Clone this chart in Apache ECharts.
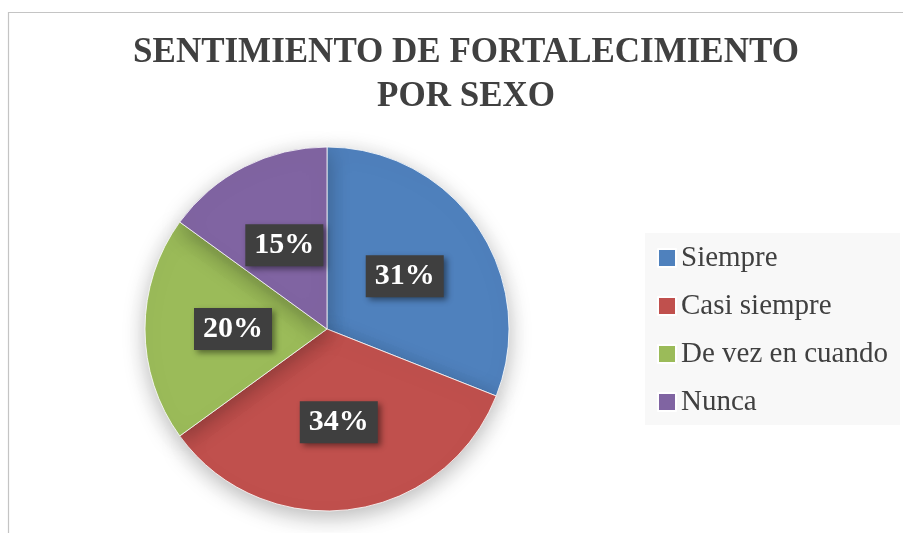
<!DOCTYPE html>
<html lang="es">

<head>
    <meta charset="UTF-8">
    <title>Sentimiento de fortalecimiento por sexo</title>
    <script src="https://cdn.jsdelivr.net/npm/echarts@6/dist/echarts.min.js"></script>
    <style>
        html, body {
            margin: 0;
            padding: 0;
            background: #fff;
        }

        #chart {
            width: 903px;
            height: 533px;
        }
    </style>
</head>

<body>
    <div id="chart"></div>
    <script>
        // datos
        var categorias = ['Siempre', 'Casi siempre', 'De vez en cuando', 'Nunca'];
        var porcentajes = [31, 34, 20, 15];
        var colores = ['#4f81bd', '#c0504d', '#9bbb59', '#8064a2'];

        var serif = '"Liberation Serif", "Times New Roman", serif';

        var datos = [];
        for (var i = 0; i < categorias.length; i++) {
            datos.push({ name: categorias[i], value: porcentajes[i], itemStyle: { color: colores[i] } });
        }

        var myChart = echarts.init(document.getElementById('chart'));
        var option = {
            animation: false,
            backgroundColor: '#fff',
            title: {
                text: 'SENTIMIENTO DE FORTALECIMIENTO\nPOR SEXO',
                left: 461,
                top: 26,
                textAlign: 'center',
                textStyle: {
                    fontFamily: serif,
                    fontWeight: 'bold',
                    fontSize: 35,
                    lineHeight: 44,
                    color: '#404040'
                }
            },
            graphic: [
                {
                    // marco del area del grafico
                    type: 'rect',
                    z: -10,
                    shape: { x: 8.5, y: 12.5, width: 1000, height: 1000 },
                    style: { fill: 'none', stroke: '#c4c4c4', lineWidth: 1.2 }
                },
                {
                    // fondo de la leyenda
                    type: 'rect',
                    z: -5,
                    shape: { x: 645, y: 233, width: 255, height: 192 },
                    style: { fill: '#f8f8f8' }
                }
            ],
            legend: {
                orient: 'vertical',
                left: 657,
                top: 243,
                padding: 0,
                itemWidth: 18,
                itemHeight: 18,
                itemGap: 18,
                icon: 'rect',
                data: categorias,
                textStyle: {
                    fontFamily: serif,
                    fontSize: 29,
                    lineHeight: 30,
                    color: '#404040'
                }
            },
            series: [{
                type: 'pie',
                center: [327, 329],
                radius: 182,
                startAngle: 90,
                clockwise: true,
                data: datos,
                itemStyle: {
                    borderColor: '#ffffff',
                    borderWidth: 0.8,
                    shadowBlur: 22,
                    shadowColor: 'rgba(0,0,0,0.28)',
                    shadowOffsetY: 6
                },
                label: {
                    show: true,
                    position: 'inside',
                    formatter: '{c}%',
                    fontFamily: serif,
                    fontWeight: 'bold',
                    fontSize: 30,
                    color: '#ffffff',
                    backgroundColor: '#3f3f3f',
                    padding: [7, 9, 5, 9],
                    shadowColor: 'rgba(0,0,0,0.45)',
                    shadowBlur: 6,
                    shadowOffsetX: 3,
                    shadowOffsetY: 3
                },
                labelLine: { show: false },
                emphasis: { disabled: true }
            }]
        };
        myChart.setOption(option);
    </script>
</body>

</html>
